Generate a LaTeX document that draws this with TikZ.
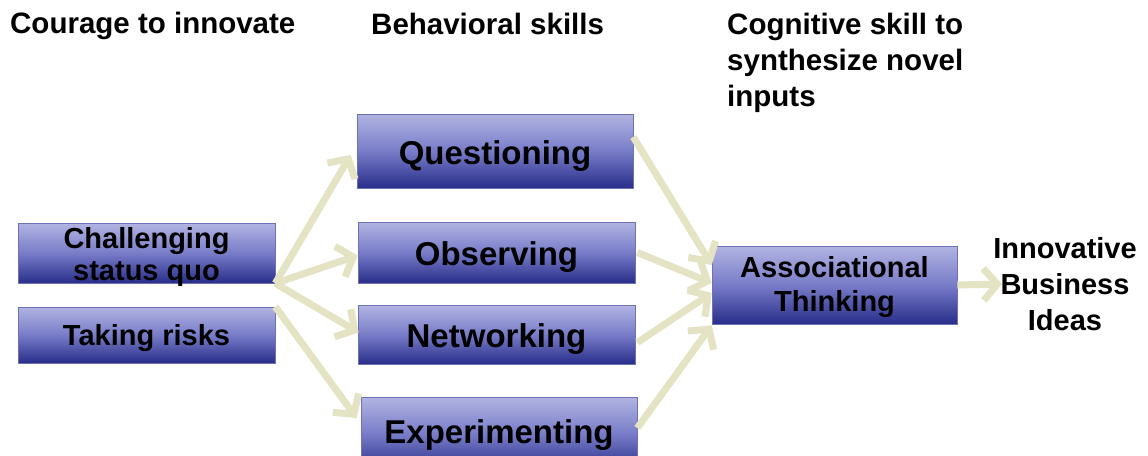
\documentclass[tikz,border=0pt]{standalone}
\usepackage{fontspec}
\setmainfont{Liberation Sans}
\usetikzlibrary{arrows.meta,calc}
\definecolor{arrowc}{RGB}{228,228,196}
\definecolor{boxtop}{RGB}{178,180,226}
\definecolor{boxmid}{RGB}{120,124,200}
\definecolor{boxbot}{RGB}{40,46,138}
\definecolor{boxedge}{RGB}{110,114,180}
\tikzset{
  skillbox/.style={rectangle, inner sep=0pt, top color=boxtop, bottom color=boxbot, middle color=boxmid,
     draw=boxedge, line width=0.6pt},
  bigtext/.style={inner sep=0pt, align=center, font=\bfseries\fontsize{33}{36}\selectfont},
  smalltext/.style={inner sep=0pt, align=center, font=\bfseries\fontsize{29}{32}\selectfont},
  header/.style={inner sep=0pt, font=\bfseries\fontsize{29.5}{36}\selectfont, align=left},
  flow/.style={draw=arrowc, line width=7pt, -{Straight Barb[length=14pt,width=32pt]}}
}
\begin{document}
\begin{tikzpicture}[x=1pt,y=-1pt]
\useasboundingbox (0,0) rectangle (1148,455);
\clip (0,0) rectangle (1148,455);
\fill[white] (0,0) rectangle (1148,455);
% headers
\node[header, anchor=base west] (h1) at (10,33) {Courage to innovate};
\node[header, anchor=base west] (h2) at (371,34) {Behavioral skills};
\node[header, anchor=north west] (h3) at (727,13) {Cognitive skill to\\synthesize novel\\inputs};
% boxes
\node[skillbox, minimum width=257pt, minimum height=60pt] (chal) at (146.5,253) {};
\node[skillbox, minimum width=257pt, minimum height=56pt] (risk) at (146.5,335) {};
\node[skillbox, minimum width=276pt, minimum height=74pt] (ques) at (495,151) {};
\node[skillbox, minimum width=277pt, minimum height=61pt] (obs) at (496.5,252.5) {};
\node[skillbox, minimum width=277pt, minimum height=59pt] (net) at (496.5,334.5) {};
\node[skillbox, minimum width=276pt, minimum height=74pt] (exp) at (499,434) {};
\node[skillbox, minimum width=245pt, minimum height=78pt] (assoc) at (834.5,285) {};
% box texts
\node[smalltext] (chalT) at ([yshift=-4pt]chal.center) {Challenging\\status quo};
\node[smalltext] (riskT) at ([yshift=-3pt]risk.center) {Taking risks};
\node[bigtext] (quesT) at ([yshift=-5pt]ques.center) {Questioning};
\node[bigtext] (obsT) at ([yshift=-5pt]obs.center) {Observing};
\node[bigtext] (netT) at ([yshift=-5pt]net.center) {Networking};
\node[bigtext] (expT) at ([yshift=-1pt]exp.center) {Experimenting};
\node[smalltext, font=\bfseries\fontsize{29}{34}\selectfont] (assocT) at ([yshift=-2.5pt]assoc.center) {Associational\\Thinking};
\node[inner sep=0pt, align=center, font=\bfseries\fontsize{29}{36}\selectfont] (innov) at (1065,284) {Innovative\\Business\\Ideas};
% arrows
\draw[flow] (chal.south east) -- ([xshift=-6pt,yshift=-4pt]ques.west);
\draw[flow] (chal.south east) -- ([yshift=-3pt]obs.west);
\draw[flow] (chal.south east) -- ([xshift=1pt,yshift=2pt]net.west);
\draw[flow] (risk.north east) -- ([xshift=-4pt,yshift=16pt]exp.west);
\draw[flow] ([yshift=14pt]ques.east) -- ([yshift=20pt]assoc.west);
\draw[flow] ([xshift=2pt]obs.east) -- ([yshift=2pt]assoc.west);
\draw[flow] ([xshift=2pt,yshift=-8pt]net.east) -- ([yshift=-8pt]assoc.west);
\draw[flow] ([yshift=6pt]exp.east) -- ([yshift=-1pt]assoc.south west);
\draw[flow] (assoc.east) -- ([xshift=9pt]innov.west);
\end{tikzpicture}
\end{document}
